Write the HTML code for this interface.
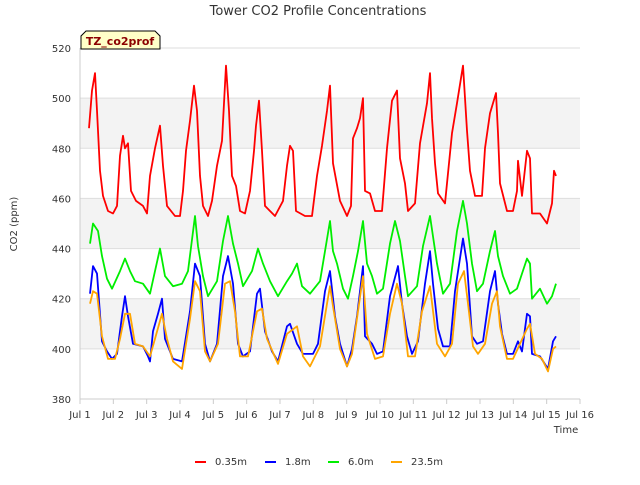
<!DOCTYPE html>
<html><head><meta charset="utf-8"><style>
body{margin:0;background:#fff;width:640px;height:480px;overflow:hidden;font-family:"Liberation Sans","DejaVu Sans",sans-serif}
text{font-family:"DejaVu Sans","Liberation Sans",sans-serif}
</style></head><body>
<svg id="chart" width="640" height="480">
<text x="318" y="15" text-anchor="middle" font-size="13" fill="#333">Tower CO2 Profile Concentrations</text>
<g id="plot"></g>
<text transform="translate(17,224) rotate(-90)" text-anchor="middle" font-size="10" fill="#333">CO2 (ppm)</text>
<text x="566" y="433" text-anchor="middle" font-size="10" fill="#333">Time</text>
<path d="M81,49 L81,36 L86,31 L155,31 L160,36 L160,49 Z" fill="#ffffc8" stroke="#000" stroke-width="1"/>
<text x="120" y="45" text-anchor="middle" font-size="11" font-weight="bold" fill="#8b0000">TZ_co2prof</text>
<g id="legend"></g>
</svg>
<script>
const yTicks=[380,400,420,440,460,480,500,520];
const xTickLabels=["Jul 1","Jul 2","Jul 3","Jul 4","Jul 5","Jul 6","Jul 7","Jul 8","Jul 9","Jul 10","Jul 11","Jul 12","Jul 13","Jul 14","Jul 15","Jul 16"];
const seriesNames=["0.35m","1.8m","6.0m","23.5m"];
const seriesColors=["#ff0000","#0000ff","#00ee00","#ffa500"];
const red=[[0.27,488],[0.36,503],[0.45,510],[0.51,495],[0.6,471],[0.69,461],[0.84,455],[0.99,454],[1.11,457],[1.2,477],[1.29,485],[1.35,480],[1.44,482],[1.53,463],[1.68,459],[1.89,457],[2.01,454],[2.1,469],[2.25,480],[2.4,489],[2.49,473],[2.61,457],[2.85,453],[3.0,453],[3.09,463],[3.18,479],[3.3,491],[3.42,505],[3.51,495],[3.6,469],[3.69,457],[3.84,453],[3.96,459],[4.11,473],[4.26,483],[4.38,513],[4.47,495],[4.56,469],[4.68,465],[4.8,455],[4.95,454],[5.1,463],[5.22,479],[5.28,489],[5.37,499],[5.46,479],[5.55,457],[5.7,455],[5.85,453],[6.09,459],[6.21,473],[6.3,481],[6.39,479],[6.48,455],[6.75,453],[6.96,453],[7.11,469],[7.26,481],[7.41,495],[7.5,505],[7.59,474],[7.8,459],[8.01,453],[8.13,457],[8.19,484],[8.31,488],[8.4,492],[8.49,500],[8.55,463],[8.7,462],[8.85,455],[9.06,455],[9.21,480],[9.36,499],[9.51,503],[9.6,476],[9.75,466],[9.84,455],[10.05,458],[10.2,482],[10.41,498],[10.5,510],[10.56,492],[10.65,474],[10.74,462],[10.95,458],[11.16,486],[11.31,498],[11.49,513],[11.61,487],[11.7,471],[11.85,461],[12.06,461],[12.15,480],[12.3,494],[12.48,502],[12.54,486],[12.6,466],[12.81,455],[12.99,455],[13.11,463],[13.14,475],[13.26,461],[13.41,479],[13.5,476],[13.56,454],[13.8,454],[14.01,450],[14.16,458],[14.22,471],[14.28,469]];
const blue=[[0.3,422],[0.39,433],[0.51,430],[0.66,403],[0.81,399],[0.96,396],[1.11,398],[1.26,413],[1.35,421],[1.44,413],[1.59,402],[1.89,401],[2.04,397],[2.1,395],[2.19,407],[2.34,414],[2.46,420],[2.55,404],[2.79,396],[3.06,395],[3.3,415],[3.45,434],[3.6,429],[3.75,402],[3.9,395],[4.11,402],[4.29,429],[4.44,437],[4.59,426],[4.74,402],[4.89,397],[5.1,399],[5.31,422],[5.4,424],[5.55,407],[5.76,399],[5.94,395],[6.21,409],[6.3,410],[6.51,402],[6.69,398],[6.99,398],[7.14,402],[7.35,423],[7.5,431],[7.65,413],[7.8,402],[8.01,393],[8.16,400],[8.31,413],[8.49,433],[8.55,405],[8.76,402],[8.91,398],[9.09,399],[9.3,421],[9.54,433],[9.66,418],[9.81,405],[9.96,398],[10.14,403],[10.35,426],[10.5,439],[10.59,426],[10.74,408],[10.89,401],[11.1,401],[11.25,423],[11.49,444],[11.61,434],[11.76,405],[11.91,402],[12.09,403],[12.3,423],[12.45,431],[12.54,418],[12.66,406],[12.81,398],[12.99,398],[13.14,403],[13.26,399],[13.41,414],[13.5,413],[13.56,398],[13.8,397],[14.04,392],[14.19,403],[14.28,405]];
const green=[[0.3,442],[0.39,450],[0.54,447],[0.66,437],[0.81,428],[0.96,424],[1.2,431],[1.35,436],[1.5,431],[1.65,427],[1.89,426],[2.1,422],[2.25,431],[2.4,440],[2.55,429],[2.79,425],[3.06,426],[3.24,431],[3.45,453],[3.54,441],[3.69,429],[3.84,421],[4.11,427],[4.29,443],[4.44,453],[4.59,442],[4.74,434],[4.89,425],[5.16,431],[5.34,440],[5.49,434],[5.7,427],[5.94,421],[6.21,427],[6.36,430],[6.51,434],[6.66,425],[6.9,422],[7.2,427],[7.35,439],[7.5,451],[7.59,439],[7.71,434],[7.89,424],[8.04,420],[8.19,429],[8.34,439],[8.49,451],[8.61,434],[8.76,429],[8.91,422],[9.09,424],[9.3,442],[9.45,451],[9.6,443],[9.75,429],[9.84,421],[10.11,425],[10.29,441],[10.5,453],[10.71,434],[10.89,422],[11.1,426],[11.31,447],[11.49,459],[11.61,450],[11.76,434],[11.91,423],[12.09,426],[12.3,439],[12.45,447],[12.54,437],[12.69,429],[12.9,422],[13.11,424],[13.26,430],[13.41,436],[13.5,434],[13.56,420],[13.8,424],[14.01,418],[14.16,421],[14.28,426]];
const orange=[[0.3,418],[0.39,423],[0.51,422],[0.66,405],[0.84,396],[1.05,396],[1.2,404],[1.35,414],[1.5,414],[1.65,402],[1.89,401],[2.1,397],[2.25,404],[2.46,414],[2.61,404],[2.79,395],[3.06,392],[3.3,412],[3.45,427],[3.6,423],[3.75,399],[3.9,395],[4.14,402],[4.35,426],[4.5,427],[4.65,415],[4.8,397],[5.04,397],[5.31,415],[5.46,416],[5.61,404],[5.94,394],[6.21,406],[6.51,409],[6.69,397],[6.9,393],[7.2,401],[7.41,418],[7.5,425],[7.59,417],[7.8,400],[8.01,393],[8.16,398],[8.34,415],[8.49,429],[8.61,406],[8.85,396],[9.09,397],[9.3,414],[9.51,426],[9.66,418],[9.84,397],[10.05,397],[10.26,415],[10.5,425],[10.71,402],[10.95,397],[11.16,402],[11.34,426],[11.52,431],[11.64,418],[11.79,401],[11.94,398],[12.15,402],[12.36,418],[12.51,423],[12.6,409],[12.81,396],[12.99,396],[13.2,402],[13.41,408],[13.5,410],[13.65,398],[13.86,396],[14.04,391],[14.19,400],[14.28,401]];
const seriesData=[red,blue,green,orange];

const L=80,R=580,T=48,B=399,yMin=380,yMax=520,xMin=0,xMax=15;
const xs=d=>L+(d-xMin)/(xMax-xMin)*(R-L);
const ys=v=>B-(v-yMin)/(yMax-yMin)*(B-T);
const NS="http://www.w3.org/2000/svg";
const plot=document.getElementById('plot');
function mk(tag,attrs,parent){const e=document.createElementNS(NS,tag);for(const k in attrs)e.setAttribute(k,attrs[k]);(parent||plot).appendChild(e);return e;}
for(let i=0;i<yTicks.length-1;i++){
  if(i%2===1){const r=mk('rect',{x:L,y:ys(yTicks[i+1]),width:R-L,height:ys(yTicks[i])-ys(yTicks[i+1]),fill:'#f3f3f3'});
  
  }
}
yTicks.forEach(v=>{
  const g=mk('line',{x1:L,x2:R,y1:ys(v),y2:ys(v),stroke:'#dddddd','stroke-width':1});
  
  
  const t=mk('text',{x:L-9,y:ys(v)+4,'text-anchor':'end','font-size':10,fill:'#333'});
  t.textContent=v;
  
  
});
const ax=mk('line',{x1:L,x2:L,y1:T,y2:B,stroke:'#cccccc'});


const axb=mk('line',{x1:L,x2:R,y1:B,y2:B,stroke:'#cccccc'});


xTickLabels.forEach((lab,i)=>{
  const tk=mk('line',{x1:xs(i),x2:xs(i),y1:B,y2:B+5,stroke:'#cccccc'});
  
  
  const t=mk('text',{x:xs(i),y:B+19,'text-anchor':'middle','font-size':10,fill:'#333'});
  t.textContent=lab;
  
  
});
seriesData.forEach((arr,si)=>{
  const p=mk('polyline',{points:arr.map(d=>xs(d[0]).toFixed(1)+','+ys(d[1]).toFixed(1)).join(' '),fill:'none',stroke:seriesColors[si],'stroke-width':1.8,'stroke-linejoin':'round'});
  
  
});
const leg=document.getElementById('legend');
const legX=[195,265,328,391];
seriesNames.forEach((n,i)=>{
  const l=mk('line',{x1:legX[i],x2:legX[i]+11,y1:462,y2:462,stroke:seriesColors[i],'stroke-width':2},leg);
  
  
  const t=mk('text',{x:legX[i]+20,y:465,'font-size':10,fill:'#333'},leg);
  t.textContent=n;
  
  
});
</script>
</body></html>
